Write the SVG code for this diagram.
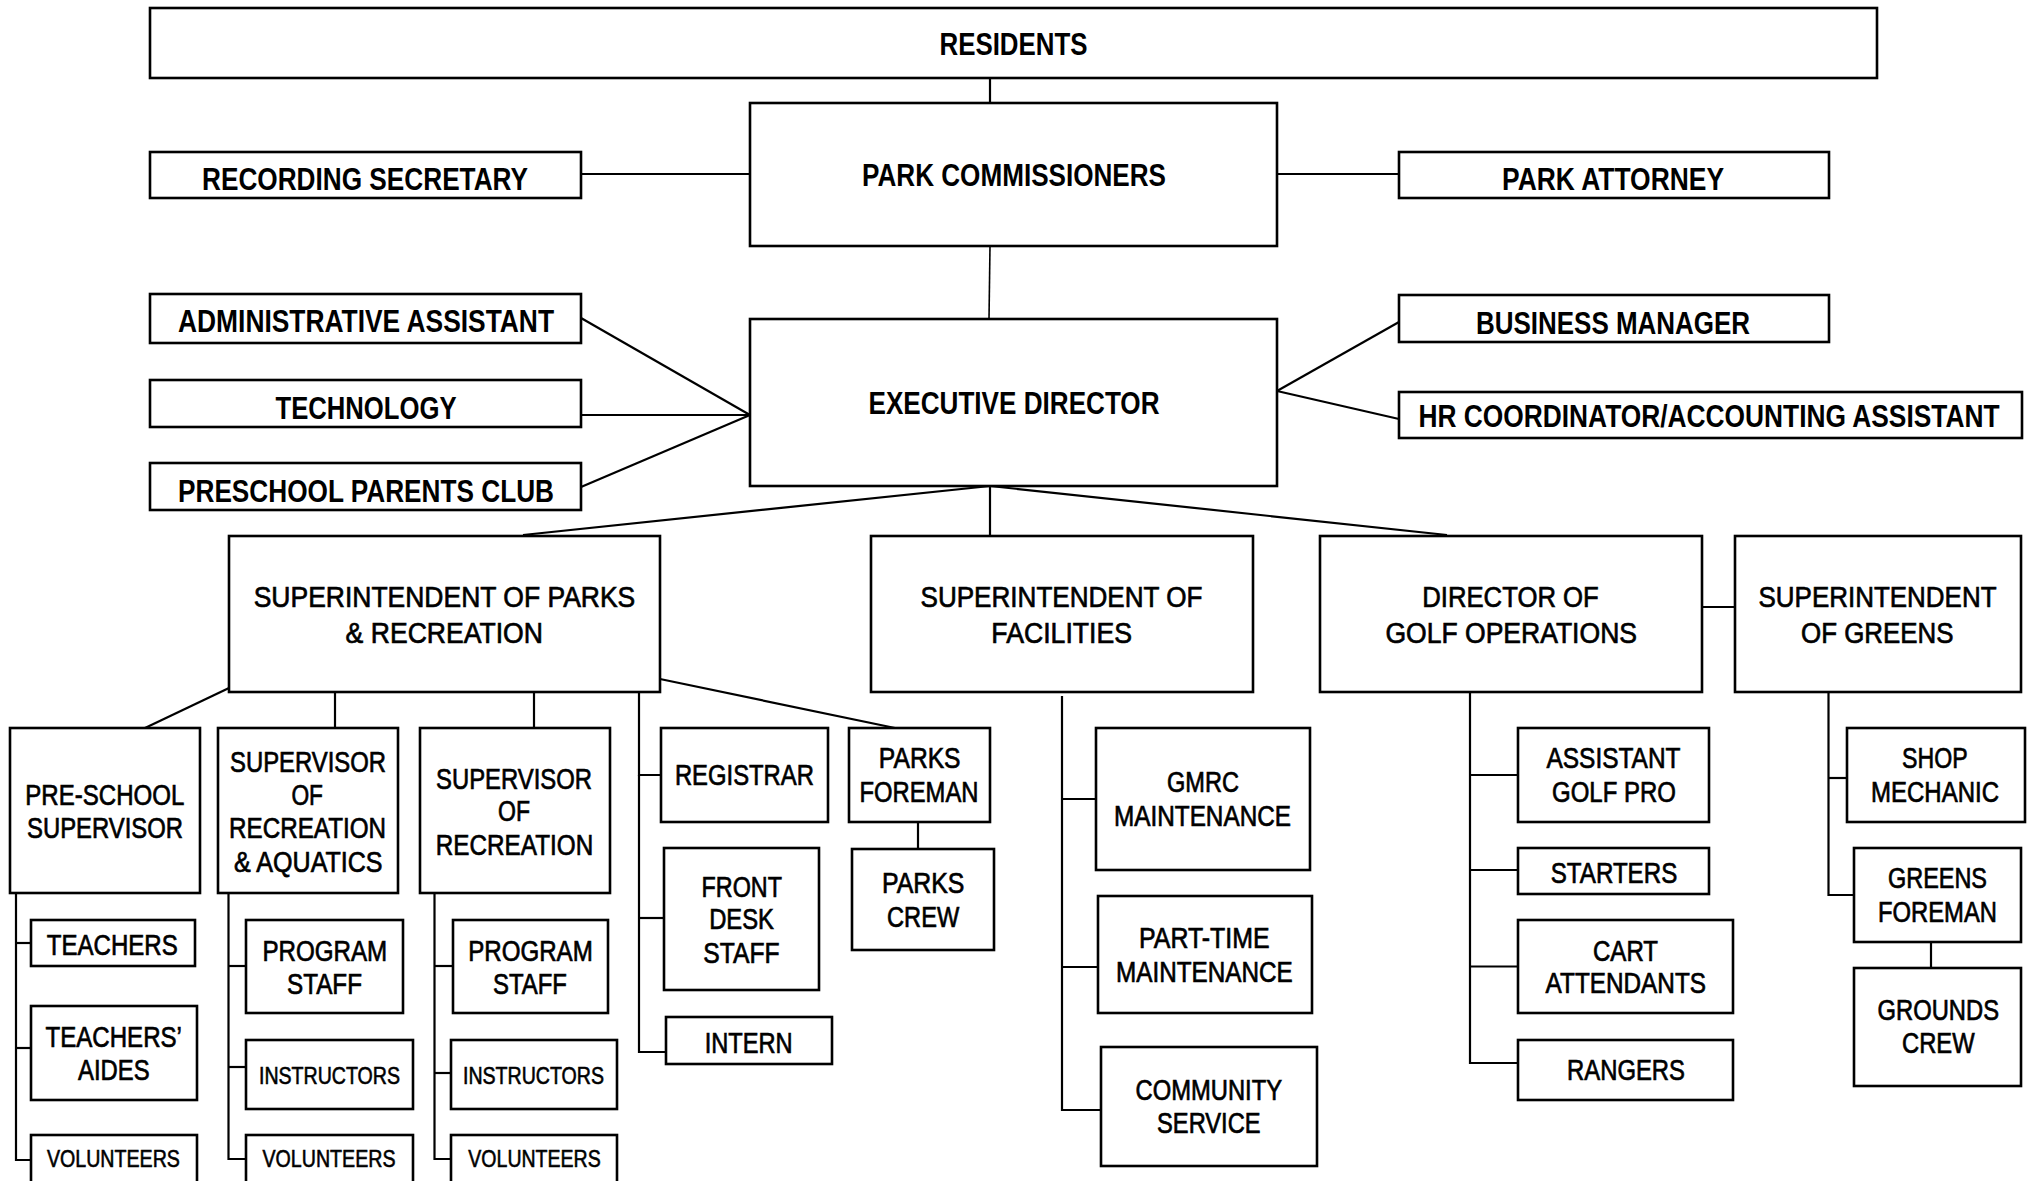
<svg xmlns="http://www.w3.org/2000/svg" width="2032" height="1181" viewBox="0 0 2032 1181">
<style>
.box{fill:#fff;stroke:#000;stroke-width:2.6}
.c line,.c polyline{stroke:#000;stroke-width:2.2;fill:none}
text{font-family:"Liberation Sans",Arial,sans-serif;fill:#000;text-anchor:middle}
.t{font-size:32px;font-weight:bold}
.m{font-size:30px;stroke:#000;stroke-width:0.7}
.n{font-size:29px;stroke:#000;stroke-width:0.7}
.s{font-size:24.5px;stroke:#000;stroke-width:0.6}
</style>
<rect width="2032" height="1181" fill="#fff"/>
<g id="connectors" class="c">
<line x1="990" y1="78" x2="990" y2="103"/>
<line x1="581" y1="174" x2="750" y2="174"/>
<line x1="1277" y1="174" x2="1399" y2="174"/>
<line x1="990" y1="246" x2="989" y2="319" style="stroke-width:1.6"/>
<line x1="581" y1="318" x2="750" y2="415"/>
<line x1="581" y1="415" x2="750" y2="415"/>
<line x1="581" y1="487" x2="750" y2="415"/>
<line x1="1277" y1="391" x2="1399" y2="322"/>
<line x1="1277" y1="391" x2="1399" y2="419"/>
<line x1="990" y1="486" x2="523" y2="535"/>
<line x1="990" y1="486" x2="990" y2="536"/>
<line x1="990" y1="486" x2="1447" y2="535"/>
<line x1="1702" y1="607" x2="1735" y2="607"/>
<line x1="229" y1="688" x2="145" y2="728"/>
<line x1="335" y1="692" x2="335" y2="728"/>
<line x1="534" y1="692" x2="534" y2="728"/>
<polyline points="661,775 639,775 639,692"/>
<polyline points="664,918 639,918"/>
<polyline points="639,775 639,1052 666,1052"/>
<line x1="660" y1="679" x2="895" y2="728"/>
<line x1="918" y1="822" x2="918" y2="849"/>
<polyline points="16,893 16,1160 31,1160"/>
<line x1="16" y1="943" x2="31" y2="943"/>
<line x1="16" y1="1048" x2="31" y2="1048"/>
<polyline points="228.5,893 228.5,1159 246,1159"/>
<line x1="228.5" y1="966" x2="246" y2="966"/>
<line x1="228.5" y1="1067" x2="246" y2="1067"/>
<polyline points="434.5,893 434.5,1159 451,1159"/>
<line x1="434.5" y1="966" x2="453" y2="966"/>
<line x1="434.5" y1="1073" x2="451" y2="1073"/>
<polyline points="1062,696 1062,1110 1101,1110"/>
<line x1="1062" y1="799" x2="1096" y2="799"/>
<line x1="1062" y1="967" x2="1098" y2="967"/>
<polyline points="1470,692 1470,1063 1518,1063"/>
<line x1="1470" y1="775" x2="1518" y2="775"/>
<line x1="1470" y1="870" x2="1518" y2="870"/>
<line x1="1470" y1="966.5" x2="1518" y2="966.5"/>
<polyline points="1828.5,692 1828.5,895 1854,895"/>
<line x1="1828.5" y1="778" x2="1847" y2="778"/>
<line x1="1931" y1="942" x2="1931" y2="968"/>
</g>
<g id="residents"><rect class="box" x="150" y="8" width="1727" height="70"/><text class="t" x="1013.5" y="55" textLength="148" lengthAdjust="spacingAndGlyphs">RESIDENTS</text></g>
<g id="park-commissioners"><rect class="box" x="750" y="103" width="527" height="143"/><text class="t" x="1014" y="186" textLength="304" lengthAdjust="spacingAndGlyphs">PARK COMMISSIONERS</text></g>
<g id="recording-secretary"><rect class="box" x="150" y="152" width="431" height="46"/><text class="t" x="365" y="190" textLength="326" lengthAdjust="spacingAndGlyphs">RECORDING SECRETARY</text></g>
<g id="park-attorney"><rect class="box" x="1399" y="152" width="430" height="46"/><text class="t" x="1613" y="190" textLength="222" lengthAdjust="spacingAndGlyphs">PARK ATTORNEY</text></g>
<g id="executive-director"><rect class="box" x="750" y="319" width="527" height="167"/><text class="t" x="1014" y="414" textLength="291" lengthAdjust="spacingAndGlyphs">EXECUTIVE DIRECTOR</text></g>
<g id="administrative-assistant"><rect class="box" x="150" y="294" width="431" height="49"/><text class="t" x="366" y="332" textLength="376" lengthAdjust="spacingAndGlyphs">ADMINISTRATIVE ASSISTANT</text></g>
<g id="technology"><rect class="box" x="150" y="380" width="431" height="47"/><text class="t" x="366" y="419" textLength="181" lengthAdjust="spacingAndGlyphs">TECHNOLOGY</text></g>
<g id="preschool-parents-club"><rect class="box" x="150" y="463" width="431" height="47"/><text class="t" x="366" y="502" textLength="376" lengthAdjust="spacingAndGlyphs">PRESCHOOL PARENTS CLUB</text></g>
<g id="business-manager"><rect class="box" x="1399" y="295" width="430" height="47"/><text class="t" x="1613" y="334" textLength="274" lengthAdjust="spacingAndGlyphs">BUSINESS MANAGER</text></g>
<g id="hr-coordinator"><rect class="box" x="1399" y="392" width="623" height="46"/><text class="t" x="1709" y="427" textLength="581" lengthAdjust="spacingAndGlyphs">HR COORDINATOR/ACCOUNTING ASSISTANT</text></g>
<g id="supt-parks-rec"><rect class="box" x="229" y="536" width="431" height="156"/><text class="m" x="444.5" y="606.5" textLength="381.6" lengthAdjust="spacingAndGlyphs">SUPERINTENDENT OF PARKS</text><text class="m" x="444.3" y="643" textLength="197.4" lengthAdjust="spacingAndGlyphs">&amp; RECREATION</text></g>
<g id="supt-facilities"><rect class="box" x="871" y="536" width="382" height="156"/><text class="m" x="1061.5" y="606.5" textLength="282" lengthAdjust="spacingAndGlyphs">SUPERINTENDENT OF</text><text class="m" x="1061.7" y="643" textLength="140.7" lengthAdjust="spacingAndGlyphs">FACILITIES</text></g>
<g id="director-golf"><rect class="box" x="1320" y="536" width="382" height="156"/><text class="m" x="1510.5" y="606.5" textLength="176.5" lengthAdjust="spacingAndGlyphs">DIRECTOR OF</text><text class="m" x="1511.2" y="643" textLength="251.6" lengthAdjust="spacingAndGlyphs">GOLF OPERATIONS</text></g>
<g id="supt-greens"><rect class="box" x="1735" y="536" width="286" height="156"/><text class="m" x="1877.5" y="606.5" textLength="238" lengthAdjust="spacingAndGlyphs">SUPERINTENDENT</text><text class="m" x="1877.3" y="643" textLength="152.6" lengthAdjust="spacingAndGlyphs">OF GREENS</text></g>
<g id="preschool-supervisor"><rect class="box" x="10" y="728" width="190" height="165"/><text class="n" x="104.8" y="804.6" textLength="159" lengthAdjust="spacingAndGlyphs">PRE-SCHOOL</text><text class="n" x="105" y="838.3" textLength="156" lengthAdjust="spacingAndGlyphs">SUPERVISOR</text></g>
<g id="supervisor-rec-aquatics"><rect class="box" x="218" y="728" width="180" height="165"/><text class="n" x="308" y="771.7" textLength="156" lengthAdjust="spacingAndGlyphs">SUPERVISOR</text><text class="n" x="307.2" y="804.6" textLength="31.6" lengthAdjust="spacingAndGlyphs">OF</text><text class="n" x="307.5" y="838.3" textLength="157" lengthAdjust="spacingAndGlyphs">RECREATION</text><text class="n" x="308.3" y="872" textLength="148.5" lengthAdjust="spacingAndGlyphs">&amp; AQUATICS</text></g>
<g id="supervisor-recreation"><rect class="box" x="420" y="728" width="190" height="165"/><text class="n" x="514" y="788.6" textLength="156" lengthAdjust="spacingAndGlyphs">SUPERVISOR</text><text class="n" x="514" y="821.4" textLength="32" lengthAdjust="spacingAndGlyphs">OF</text><text class="n" x="514.5" y="855" textLength="157.4" lengthAdjust="spacingAndGlyphs">RECREATION</text></g>
<g id="registrar"><rect class="box" x="661" y="728" width="167" height="94"/><text class="n" x="744.4" y="784.8" textLength="139" lengthAdjust="spacingAndGlyphs">REGISTRAR</text></g>
<g id="parks-foreman"><rect class="box" x="849" y="728" width="141" height="94"/><text class="n" x="919.7" y="768" textLength="81.7" lengthAdjust="spacingAndGlyphs">PARKS</text><text class="n" x="919" y="801.6" textLength="118.8" lengthAdjust="spacingAndGlyphs">FOREMAN</text></g>
<g id="front-desk-staff"><rect class="box" x="664" y="848" width="155" height="142"/><text class="n" x="741.8" y="896.5" textLength="80.4" lengthAdjust="spacingAndGlyphs">FRONT</text><text class="n" x="741.6" y="929" textLength="64.8" lengthAdjust="spacingAndGlyphs">DESK</text><text class="n" x="741.5" y="962.7" textLength="76.3" lengthAdjust="spacingAndGlyphs">STAFF</text></g>
<g id="parks-crew"><rect class="box" x="852" y="849" width="142" height="101"/><text class="n" x="923.2" y="893" textLength="82.5" lengthAdjust="spacingAndGlyphs">PARKS</text><text class="n" x="923.1" y="926.8" textLength="72.2" lengthAdjust="spacingAndGlyphs">CREW</text></g>
<g id="intern"><rect class="box" x="666" y="1017" width="166" height="47"/><text class="n" x="748.7" y="1052.5" textLength="88" lengthAdjust="spacingAndGlyphs">INTERN</text></g>
<g id="teachers"><rect class="box" x="31" y="920" width="164" height="46"/><text class="n" x="112.3" y="955" textLength="131" lengthAdjust="spacingAndGlyphs">TEACHERS</text></g>
<g id="teachers-aides"><rect class="box" x="31" y="1006" width="166" height="94"/><text class="n" x="113.7" y="1047" textLength="136.5" lengthAdjust="spacingAndGlyphs">TEACHERS’</text><text class="n" x="113.8" y="1080" textLength="71.6" lengthAdjust="spacingAndGlyphs">AIDES</text></g>
<g id="volunteers-1"><rect class="box" x="31" y="1135" width="166" height="52"/><text class="s" x="113.4" y="1167" textLength="133" lengthAdjust="spacingAndGlyphs">VOLUNTEERS</text></g>
<g id="program-staff-1"><rect class="box" x="246" y="920" width="157" height="93"/><text class="n" x="324.8" y="960.6" textLength="124.8" lengthAdjust="spacingAndGlyphs">PROGRAM</text><text class="n" x="324.5" y="994.3" textLength="75" lengthAdjust="spacingAndGlyphs">STAFF</text></g>
<g id="instructors-1"><rect class="box" x="246" y="1040" width="167" height="69"/><text class="s" x="329.5" y="1083.6" textLength="141" lengthAdjust="spacingAndGlyphs">INSTRUCTORS</text></g>
<g id="volunteers-2"><rect class="box" x="246" y="1135" width="167" height="52"/><text class="s" x="329" y="1167" textLength="133" lengthAdjust="spacingAndGlyphs">VOLUNTEERS</text></g>
<g id="program-staff-2"><rect class="box" x="453" y="920" width="155" height="93"/><text class="n" x="530.5" y="960.6" textLength="124.5" lengthAdjust="spacingAndGlyphs">PROGRAM</text><text class="n" x="530" y="994.3" textLength="74" lengthAdjust="spacingAndGlyphs">STAFF</text></g>
<g id="instructors-2"><rect class="box" x="451" y="1040" width="166" height="69"/><text class="s" x="533.5" y="1083.6" textLength="141" lengthAdjust="spacingAndGlyphs">INSTRUCTORS</text></g>
<g id="volunteers-3"><rect class="box" x="451" y="1135" width="166" height="52"/><text class="s" x="534.5" y="1167" textLength="132.3" lengthAdjust="spacingAndGlyphs">VOLUNTEERS</text></g>
<g id="gmrc-maintenance"><rect class="box" x="1096" y="728" width="214" height="142"/><text class="n" x="1203" y="792" textLength="72" lengthAdjust="spacingAndGlyphs">GMRC</text><text class="n" x="1202.5" y="825.6" textLength="177" lengthAdjust="spacingAndGlyphs">MAINTENANCE</text></g>
<g id="part-time-maintenance"><rect class="box" x="1098" y="896" width="214" height="117"/><text class="n" x="1204.3" y="948" textLength="130.5" lengthAdjust="spacingAndGlyphs">PART-TIME</text><text class="n" x="1204.4" y="981.6" textLength="176.7" lengthAdjust="spacingAndGlyphs">MAINTENANCE</text></g>
<g id="community-service"><rect class="box" x="1101" y="1047" width="216" height="119"/><text class="n" x="1208.8" y="1099.7" textLength="146.5" lengthAdjust="spacingAndGlyphs">COMMUNITY</text><text class="n" x="1208.8" y="1133.4" textLength="103.5" lengthAdjust="spacingAndGlyphs">SERVICE</text></g>
<g id="assistant-golf-pro"><rect class="box" x="1518" y="728" width="191" height="94"/><text class="n" x="1613.5" y="768" textLength="134" lengthAdjust="spacingAndGlyphs">ASSISTANT</text><text class="n" x="1614" y="801.6" textLength="123.8" lengthAdjust="spacingAndGlyphs">GOLF PRO</text></g>
<g id="starters"><rect class="box" x="1518" y="848" width="191" height="46"/><text class="n" x="1614" y="883.4" textLength="126.5" lengthAdjust="spacingAndGlyphs">STARTERS</text></g>
<g id="cart-attendants"><rect class="box" x="1518" y="920" width="215" height="93"/><text class="n" x="1625.5" y="960.6" textLength="65" lengthAdjust="spacingAndGlyphs">CART</text><text class="n" x="1625.8" y="993.4" textLength="160.4" lengthAdjust="spacingAndGlyphs">ATTENDANTS</text></g>
<g id="rangers"><rect class="box" x="1518" y="1040" width="215" height="60"/><text class="n" x="1626" y="1080" textLength="118" lengthAdjust="spacingAndGlyphs">RANGERS</text></g>
<g id="shop-mechanic"><rect class="box" x="1847" y="728" width="178" height="94"/><text class="n" x="1934.8" y="768" textLength="65.6" lengthAdjust="spacingAndGlyphs">SHOP</text><text class="n" x="1935" y="801.6" textLength="128" lengthAdjust="spacingAndGlyphs">MECHANIC</text></g>
<g id="greens-foreman"><rect class="box" x="1854" y="848" width="167" height="94"/><text class="n" x="1937.5" y="887.6" textLength="99" lengthAdjust="spacingAndGlyphs">GREENS</text><text class="n" x="1937.5" y="921.8" textLength="119" lengthAdjust="spacingAndGlyphs">FOREMAN</text></g>
<g id="grounds-crew"><rect class="box" x="1854" y="968" width="167" height="118"/><text class="n" x="1938.3" y="1019.6" textLength="121.5" lengthAdjust="spacingAndGlyphs">GROUNDS</text><text class="n" x="1938.3" y="1053" textLength="72.6" lengthAdjust="spacingAndGlyphs">CREW</text></g>
</svg>
